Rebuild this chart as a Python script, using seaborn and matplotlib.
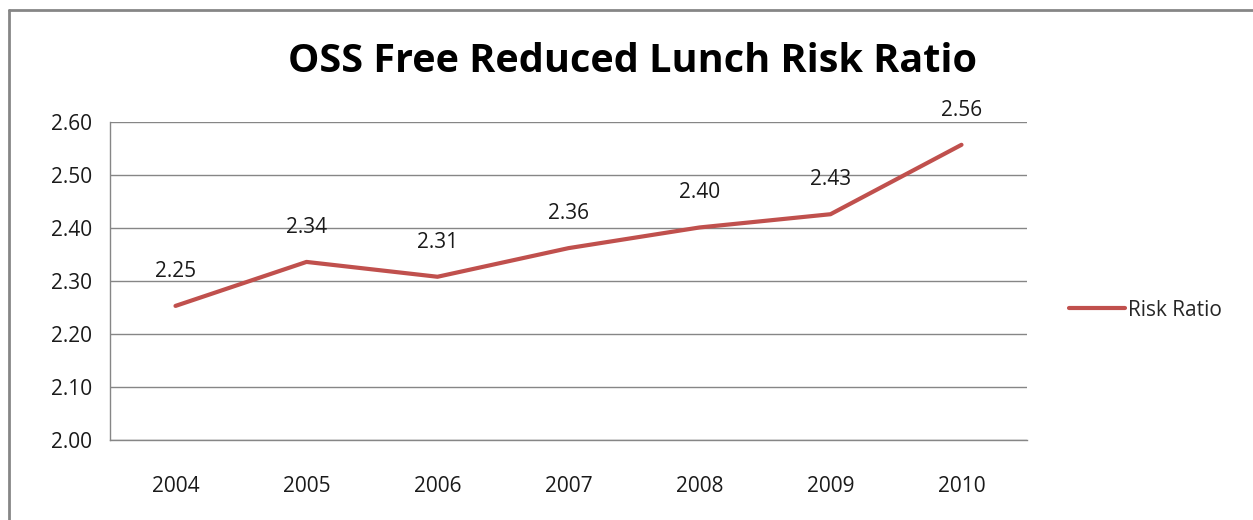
import numpy as np
import pandas as pd
import matplotlib.pyplot as plt
import seaborn as sns
from matplotlib.lines import Line2D

# chart data
years = [2004, 2005, 2006, 2007, 2008, 2009, 2010]
risk_ratio = [2.253, 2.336, 2.308, 2.362, 2.401, 2.426, 2.557]
y_ticks = [2.00, 2.10, 2.20, 2.30, 2.40, 2.50, 2.60]
title = "OSS Free Reduced Lunch Risk Ratio"
series_name = "Risk Ratio"

df = pd.DataFrame({"Year": years, series_name: risk_ratio})

sns.set_style("white")
plt.rcParams['font.family'] = ['Open Sans', 'DejaVu Sans']

fig = plt.figure(figsize=(12.53, 5.2), dpi=100)
ax = fig.add_axes([110 / 1253, 80 / 520, 917 / 1253, 318 / 520])

red = "#C0504D"
grey = "#868686"

sns.lineplot(data=df, x="Year", y=series_name, ax=ax, color=red, linewidth=3,
             legend=False)

# data labels
for x, y in zip(years, risk_ratio):
    ax.annotate(f"{y:.2f}", (x, y), xytext=(0, 25), textcoords="offset points",
                ha="center", va="center", fontsize=15, color="#1a1a1a")

ax.set_xlim(years[0] - 0.5, years[-1] + 0.5)
ax.set_ylim(y_ticks[0], y_ticks[-1])
ax.set_yticks(y_ticks)
ax.set_yticklabels([f"{t:.2f}" for t in y_ticks])
ax.set_xticks(years)
ax.set_xticks([y - 0.5 for y in years] + [years[-1] + 0.5], minor=True)
ax.tick_params(axis="x", which="major", length=0, pad=26, labelsize=15,
               colors="#1a1a1a")
ax.tick_params(axis="x", which="minor", length=7, width=1, color=grey,
               direction="out")
ax.tick_params(axis="y", length=7, width=1, color=grey, direction="out",
               labelsize=15, labelcolor="#1a1a1a", pad=6)
ax.set_xlabel("")
ax.set_ylabel("")

ax.grid(axis="y", color=grey, linewidth=1)
ax.set_axisbelow(True)
for side in ["top", "right"]:
    ax.spines[side].set_visible(False)
for side in ["left", "bottom"]:
    ax.spines[side].set_color(grey)
    ax.spines[side].set_linewidth(1)

fig.text(632 / 1253, 1 - 62 / 520, title, ha="center", va="center",
         fontsize=28.5, fontweight="bold", color="black")

handle = Line2D([], [], color=red, linewidth=3)
fig.legend([handle], [series_name], loc="center left",
           bbox_to_anchor=(1050 / 1253, 1 - 310 / 520), frameon=False,
           fontsize=15, handlelength=2.7, handletextpad=0.15)

# outer chart border (only left and top visible in the crop)
fig.add_artist(Line2D([9 / 1253, 9 / 1253], [0, 1 - 10 / 520],
                      transform=fig.transFigure, color=grey, linewidth=2))
fig.add_artist(Line2D([9 / 1253, 1], [1 - 10 / 520, 1 - 10 / 520],
                      transform=fig.transFigure, color=grey, linewidth=2))

fig.savefig("out.png", dpi=100)
